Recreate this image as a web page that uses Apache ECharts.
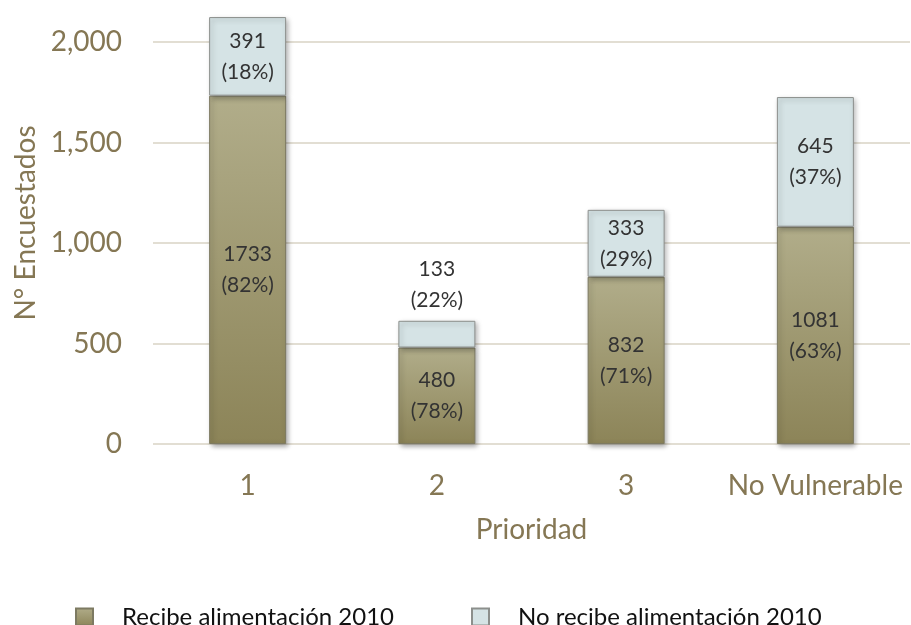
<!DOCTYPE html>
<html>
<head>
<meta charset="utf-8">
<script src="https://cdn.jsdelivr.net/npm/echarts@6/dist/echarts.min.js"></script>
<style>html,body{margin:0;padding:0;background:#fff}#c{width:911px;height:625px}</style>
</head>
<body>
<div id="c"></div>
<script>
const categories = ['1', '2', '3', 'No Vulnerable'];
const recibe = [1733, 480, 832, 1081];
const noRecibe = [391, 133, 333, 645];
const recibePct = [82, 78, 71, 63];
const noRecibePct = [18, 22, 29, 37];
const yTicks = [0, 500, 1000, 1500, 2000];

const FONT = 'Lato';
const AXC = '#857754';

const chart = echarts.init(document.getElementById('c'));
const lblStyle = { fontFamily: FONT, fontSize: 21, color: '#333', lineHeight: 31 };
const legText = { fontFamily: FONT, fontSize: 24, color: '#111', padding: [0, 0, 0, 24] };

chart.setOption({
  animation: false,
  textStyle: { fontFamily: FONT },
  grid: { left: 153, right: 1, top: 42, bottom: 181 },
  legend: [
    { left: 70, top: 600, itemWidth: 17, itemHeight: 17, textStyle: legText,
      data: [{ name: 'Recibe alimentación 2010', icon: 'rect' }] },
    { left: 466, top: 600, itemWidth: 17, itemHeight: 17, textStyle: legText,
      data: [{ name: 'No recibe alimentación 2010', icon: 'rect' }] }
  ],
  xAxis: {
    type: 'category', data: categories,
    name: 'Prioridad', nameLocation: 'middle', nameGap: 72,
    nameTextStyle: { fontFamily: FONT, fontSize: 28, color: AXC },
    axisLine: { show: false }, axisTick: { show: false },
    axisLabel: { fontFamily: FONT, fontSize: 28, color: AXC, margin: 28, interval: 0 }
  },
  yAxis: {
    type: 'value', min: yTicks[0], max: yTicks[yTicks.length - 1], interval: 500,
    name: 'N° Encuestados', nameLocation: 'middle', nameGap: 112,
    nameTextStyle: { fontFamily: FONT, fontSize: 28, color: AXC, padding: [0, 0, 0, 40] },
    axisLabel: { fontFamily: FONT, fontSize: 28, color: AXC, margin: 31,
      formatter: v => v.toLocaleString('en-US') },
    splitLine: { lineStyle: { color: '#e2ded3', width: 2 } },
    axisLine: { show: false }, axisTick: { show: false }
  },
  series: [
    {
      name: 'Recibe alimentación 2010', type: 'bar', stack: 's', barWidth: 77, clip: false,
      data: recibe,
      itemStyle: {
        color: new echarts.graphic.LinearGradient(0, 0, 0, 1, [
          { offset: 0, color: '#b1ad8a' }, { offset: 1, color: '#8c8458' }
        ]),
        borderColor: '#7d7a62', borderWidth: 1,
        shadowColor: 'rgba(0,0,0,0.35)', shadowBlur: 5, shadowOffsetX: 2, shadowOffsetY: 2
      },
      label: {
        show: true, position: 'inside', ...lblStyle,
        formatter: p => p.value + '\n(' + recibePct[p.dataIndex] + '%)'
      }
    },
    {
      name: 'No recibe alimentación 2010', type: 'bar', stack: 's', barWidth: 77, clip: false,
      data: noRecibe.map((v, i) => i === 1
        ? { value: v, label: { position: 'top', distance: 5 } }
        : v),
      itemStyle: {
        color: '#d5e3e5', borderColor: '#8c8f8c', borderWidth: 1,
        shadowColor: 'rgba(0,0,0,0.3)', shadowBlur: 5, shadowOffsetX: 2, shadowOffsetY: 2
      },
      label: {
        show: true, position: 'inside', ...lblStyle,
        formatter: p => p.value + '\n(' + noRecibePct[p.dataIndex] + '%)'
      }
    }
  ]
});
</script>
</body>
</html>
